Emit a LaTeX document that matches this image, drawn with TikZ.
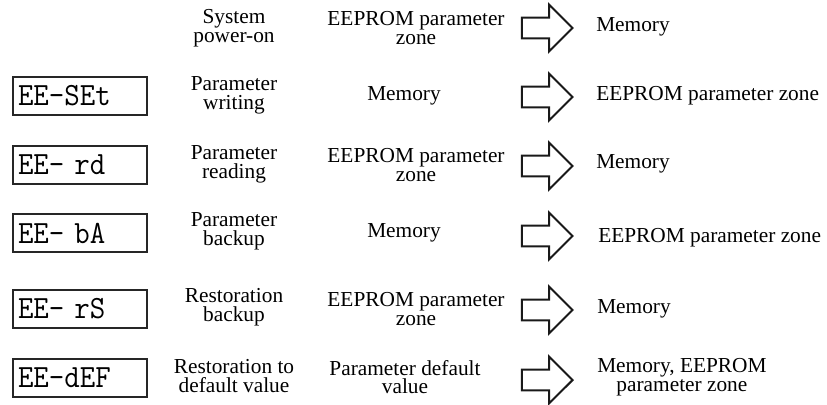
\documentclass[tikz,border=0pt]{standalone}
\usepackage{fontspec}
\setmainfont{Liberation Serif}
\setmonofont{Latin Modern Mono}
\usetikzlibrary{shapes.arrows}

\newcommand{\lcd}[1]{\scalebox{1}[1.08]{#1}}

\tikzset{
    modebox/.style={draw=black!85, line width=1.5pt, text width=93pt, inner xsep=3.75pt,
        inner ysep=0pt, minimum height=28.5pt, align=left,
        font=\fontsize{22.5}{22.5}\selectfont\ttfamily},
    label/.style={align=center, inner sep=0pt, font=\fontsize{16}{14}\selectfont},
    target/.style={label, anchor=west},
    blockarrow/.style={single arrow, draw=black!90, line width=1.5pt, inner xsep=0pt,
        inner ysep=7.1pt, single arrow head extend=9.75pt, minimum height=38pt}
}

\begin{document}
\begin{tikzpicture}[x=0.75pt, y=-0.75pt, line join=miter]
    \useasboundingbox (0,0) rectangle (827,404);

    % 上电: 没有功能码框
    \node[label] (fn-on) at (234,28) {System\\power-on};
    \node[label] (src-on) at (416,28) {EEPROM parameter\\zone};
    \node[blockarrow] (arr-on) at (542,28) {};
    \node[target] (dst-on) at (596,27) {Memory};

    % EE-SEt 参数写入
    \node[modebox] (box-set) at (80,96) {\lcd{EE-SEt}};
    \node[label] (fn-set) at (234,95) {Parameter\\writing};
    \node[label] (src-set) at (404,96) {Memory};
    \node[blockarrow] (arr-set) at (542,97) {};
    \node[target] (dst-set) at (596,96) {EEPROM parameter zone};

    % EE- rd 参数读取
    \node[modebox] (box-rd) at (80,165) {\lcd{EE- rd}};
    \node[label] (fn-rd) at (234,164) {Parameter\\reading};
    \node[label] (src-rd) at (416,165) {EEPROM parameter\\zone};
    \node[blockarrow] (arr-rd) at (542,166) {};
    \node[target] (dst-rd) at (596,164) {Memory};

    % EE- bA 参数备份
    \node[modebox] (box-ba) at (80,233) {\lcd{EE- bA}};
    \node[label] (fn-ba) at (234,231) {Parameter\\backup};
    \node[label] (src-ba) at (404,233) {Memory};
    \node[blockarrow] (arr-ba) at (542,236) {};
    \node[target] (dst-ba) at (598,238) {EEPROM parameter zone};

    % EE- rS 恢复备份
    \node[modebox] (box-rs) at (80,309) {\lcd{EE- rS}};
    \node[label] (fn-rs) at (234,307) {Restoration\\backup};
    \node[label] (src-rs) at (416,309) {EEPROM parameter\\zone};
    \node[blockarrow] (arr-rs) at (542,310) {};
    \node[target] (dst-rs) at (597,309) {Memory};

    % EE-dEF 恢复出厂值
    \node[modebox] (box-def) at (80,378) {\lcd{EE-dEF}};
    \node[label] (fn-def) at (234,376) {Restoration to\\default value};
    \node[label] (src-def) at (405,377) {Parameter default\\value};
    \node[blockarrow] (arr-def) at (542,380) {};
    \node[target] (dst-def) at (597,377) {Memory, EEPROM\\parameter zone};
\end{tikzpicture}
\end{document}
